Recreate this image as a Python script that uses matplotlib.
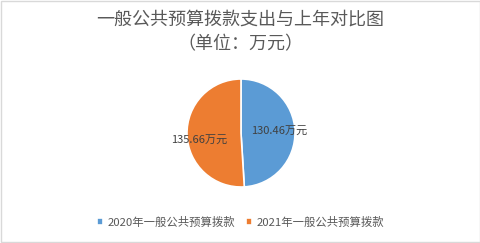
import matplotlib.pyplot as plt
from matplotlib.patches import Rectangle

plt.rcParams['font.family'] = ['Noto Sans CJK SC', 'DejaVu Sans']

labels = ['2020年一般公共预算拨款', '2021年一般公共预算拨款']
values = [130.46, 135.66]
colors = ['#5B9BD5', '#ED7D31']

W, H = 481, 243
fig = plt.figure(figsize=(W / 100, H / 100), dpi=100)

# title
fig.text(0.5, 1 - 20 / H, '一般公共预算拨款支出与上年对比图', ha='center', va='center',
         fontsize=13, color='#595959')
fig.text(0.5, 1 - 44 / H, '（单位：万元）', ha='center', va='center',
         fontsize=13, color='#595959')

# pie axes: center (241,133), radius ~53px
r = 54
ax = fig.add_axes([(241 - r) / W, (H - 133 - r) / H, 2 * r / W, 2 * r / H])
wedges, texts, autotexts = ax.pie(
    values, colors=colors, startangle=90, counterclock=False,
    autopct=lambda p: '', pctdistance=0.7,
    wedgeprops=dict(edgecolor='white', linewidth=1.2))
ax.set_xlim(-1, 1)
ax.set_ylim(-1, 1)
ax.set_aspect('equal')
for at, v in zip(autotexts, values):
    at.set_text(f'{v:.2f}万元')
    at.set_fontsize(8)
    at.set_color('#404040')
x1, y1 = autotexts[1].get_position()
autotexts[1].set_position((x1 - 0.08, y1 - 0.12))

# legend
leg = fig.legend(wedges, labels, loc='center', bbox_to_anchor=(0.5, 1 - 222 / H),
                 ncol=2, frameon=False, fontsize=8.2, handlelength=0.5, handleheight=0.5,
                 handletextpad=0.4, columnspacing=1.0, labelcolor='#595959')

# border
fig.patches.append(Rectangle((0.002, 0.004), 0.996, 0.992, transform=fig.transFigure,
                             fill=False, edgecolor='#D9D9D9', linewidth=1))

fig.savefig('out.png', dpi=100)
